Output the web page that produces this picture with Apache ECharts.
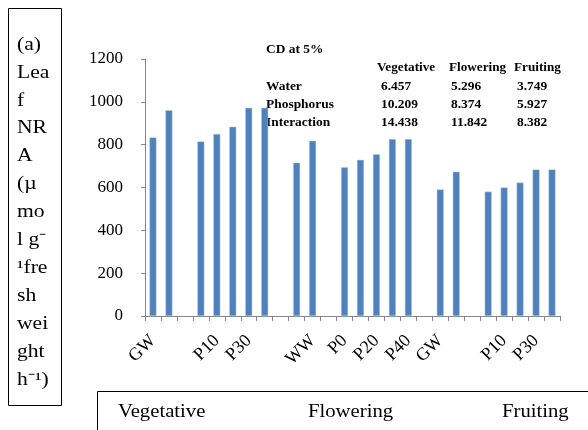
<!DOCTYPE html>
<html>
<head>
<meta charset="utf-8">
<script src="https://cdn.jsdelivr.net/npm/echarts@6/dist/echarts.min.js"></script>
<style>
html,body{margin:0;padding:0;background:#fff;}
#chart{width:588px;height:430px;}
</style>
</head>
<body>
<div id="chart"></div>
<script>
// ---- data ----
const categories = ['GW','WW','','P0','P10','P20','P30','P40','','GW','WW','','P0','P10','P20','P30','P40','','GW','WW','','P0','P10','P20','P30','P40'];
const nraValues = [834, 961, null, 815, 850, 884, 972, 972, null, 716, 818, null, 694, 729, 755, 826, 826, null, 591, 674, null, 581, 600, 623, 684, 684];
const yTicks = [0, 200, 400, 600, 800, 1000, 1200];
const stages = ['Vegetative', 'Flowering', 'Fruiting'];
const cdTitle = 'CD at 5%';
const cdRows = ['Water', 'Phosphorus', 'Interaction'];
const cdWater = ['6.457', '5.296', '3.749'];
const cdPhosphorus = ['10.209', '8.374', '5.927'];
const cdInteraction = ['14.438', '11.842', '8.382'];
const yTitleLines = ['(a)', 'Lea', 'f', 'NR', 'A', '(µ', 'mo', 'l g\u207B', '\u00B9fre', 'sh', 'wei', 'ght', 'h\u207B\u00B9)'];

const SERIF = '"Liberation Serif", "Times New Roman", serif';
const chart = echarts.init(document.getElementById('chart'));

function txt(x, y, text, size, sx, weight, align) {
  return {
    type: 'text', x: x, y: y, scaleX: sx, silent: true,
    style: {
      text: text, fill: '#000',
      font: (weight || 'normal') + ' ' + size + 'px ' + SERIF,
      textAlign: align || 'left', textVerticalAlign: 'middle',
      align: align || 'left', verticalAlign: 'middle'
    }
  };
}

const graphics = [];
// left title box
graphics.push({type: 'rect', silent: true, shape: {x: 8.5, y: 8.5, width: 53, height: 397}, style: {fill: 'none', stroke: '#000', lineWidth: 1}});
yTitleLines.forEach((t, i) => graphics.push(txt(17, 45 + i * 27.9, t, 18, 1.2)));
// bottom stage box
graphics.push({type: 'rect', silent: true, shape: {x: 97.5, y: 391.5, width: 520, height: 80}, style: {fill: 'none', stroke: '#000', lineWidth: 1}});
const stageX = [118, 308, 502];
stages.forEach((s, i) => graphics.push(txt(stageX[i], 412, s, 18, 1.15)));
// CD annotation table
const rowX = 266, colX = [377, 449, 514], valX = [381, 451, 517];
graphics.push(txt(rowX, 50, cdTitle, 12, 1.12, 'bold'));
stages.forEach((s, i) => graphics.push(txt(colX[i], 68, s, 12, 1.1, 'bold')));
const rowY = [87, 105, 123];
const cdVals = [cdWater, cdPhosphorus, cdInteraction];
cdRows.forEach((r, i) => {
  graphics.push(txt(rowX, rowY[i], r, 12, 1.12, 'bold'));
  cdVals[i].forEach((v, j) => graphics.push(txt(valX[j], rowY[i], v, 12, 1.12, 'bold')));
});

chart.setOption({
  animation: false,
  backgroundColor: '#fff',
  grid: {left: 145, right: 28, top: 59, bottom: 114, containLabel: false},
  xAxis: {
    type: 'category',
    data: categories,
    boundaryGap: true,
    axisLine: {show: true, lineStyle: {color: '#868686', width: 1}},
    axisTick: {show: true, interval: 0, length: 5, lineStyle: {color: '#868686'}},
    axisLabel: {interval: 1, rotate: 45, margin: 22, color: '#000', fontFamily: SERIF, fontSize: 18},
    splitLine: {show: false}
  },
  yAxis: {
    type: 'value',
    min: yTicks[0], max: yTicks[yTicks.length - 1], interval: yTicks[1] - yTicks[0],
    axisLine: {show: true, lineStyle: {color: '#868686', width: 1}},
    axisTick: {show: true, length: 4, lineStyle: {color: '#868686'}},
    axisLabel: {margin: 22, color: '#000', fontFamily: SERIF, fontSize: 17, formatter: v => String(v)},
    splitLine: {show: false}
  },
  series: [{
    type: 'bar',
    data: nraValues,
    barWidth: 7,
    itemStyle: {color: '#4F81BD', borderColor: '#B9CDE5', borderWidth: 0.5},
    silent: true
  }],
  graphic: graphics
});
</script>
</body>
</html>
